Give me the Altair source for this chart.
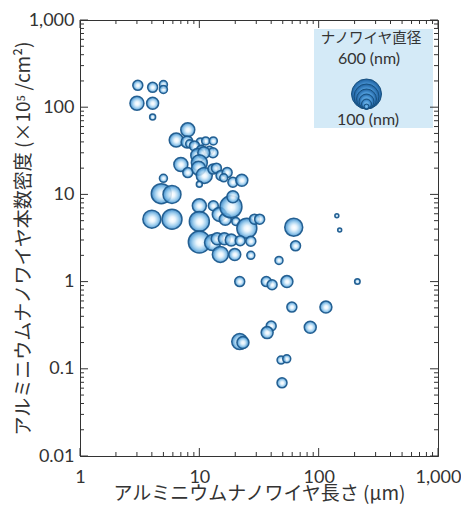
import altair as alt
import pandas as pd

# ---------------- data ----------------
length_um = [
    3.05, 4.06, 5.0, 5.0, 3.0, 4.06, 4.06,
    8.0, 6.4, 7.9, 8.3, 10.2, 11.3, 13.1, 9.1, 10.4, 12.2, 13.0, 9.7, 10.9,
    7.0, 10.0, 9.85, 11.0, 8.0, 13.0, 13.9, 15.2, 17.1, 16.0, 19.1, 22.7, 10.0, 5.0,
    4.8, 5.9, 4.0, 5.9, 10.0, 10.0, 13.1, 14.7, 16.5, 20.2, 18.4, 19.1, 25.0, 29.0, 32.0,
    10.0, 12.9, 14.1, 16.2, 18.5, 22.0, 27.0, 15.0, 19.8, 27.0,
    61.8, 64.0, 142.0, 150.0, 211.0, 46.5, 21.8, 36.4, 40.7, 54.2,
    59.6, 115.0, 85.0, 40.0, 37.0, 21.8, 23.2, 48.4, 54.0, 49.3,
]
density = [
    178, 169, 182, 160, 111, 111, 77,
    55, 42, 40, 38, 40, 41, 41, 36, 32, 32, 30, 28, 30,
    22, 23, 20, 16.5, 17.8, 19.5, 20, 16.5, 17.8, 15.5, 13.8, 14.5, 13.1, 15.3,
    10.2, 10.0, 5.2, 5.2, 7.4, 4.9, 7.4, 5.9, 5.2, 4.9, 7.2, 9.4, 4.1, 5.2, 5.2,
    2.85, 2.8, 3.1, 3.1, 3.0, 2.95, 2.9, 2.05, 2.05, 2.0,
    4.2, 2.57, 5.7, 3.9, 1.0, 1.75, 1.0, 1.0, 0.92, 1.0,
    0.51, 0.51, 0.30, 0.31, 0.26, 0.205, 0.20, 0.126, 0.13, 0.069,
]
diameter_nm = [
    200, 200, 160, 160, 280, 240, 120,
    280, 280, 240, 160, 160, 160, 160, 200, 200, 160, 200, 280, 240,
    280, 320, 280, 320, 200, 200, 200, 200, 200, 160, 200, 240, 120, 160,
    400, 360, 360, 400, 280, 400, 200, 280, 240, 160, 440, 240, 400, 200, 200,
    440, 320, 240, 240, 240, 200, 200, 320, 240, 160,
    360, 200, 80, 80, 110, 160, 200, 200, 200, 240,
    200, 240, 240, 200, 240, 320, 240, 160, 160, 200,
]

x_major = [1, 10, 100, 1000]
y_major = [0.01, 0.1, 1, 10, 100, 1000]
x_minor = [m * 10 ** e for e in range(0, 3) for m in range(2, 10)]
y_minor = [m * 10.0 ** e for e in range(-2, 3) for m in range(2, 10)]

legend_diam = [600, 500, 400, 300, 200, 100]
legend_title = "ナノワイヤ直径"
legend_max = "600 (nm)"
legend_min = "100 (nm)"
x_title = "アルミニウムナノワイヤ長さ (µm)"
y_title = "アルミニウムナノワイヤ本数密度 (×10⁵ /cm²)"

# ---------------- styling ----------------
W, H = 358, 436
FONT = "Noto Sans CJK JP"
NUMFONT = "Lato"
TXT = "#333333"
AX = "#333333"
MAJ, MIN = 8, 4
PX_PER_NM = 0.05  # circle diameter in px per nm

bubble_grad = alt.RadialGradient(
    gradient="radial",
    stops=[
        alt.GradientStop(color="#ffffff", offset=0),
        alt.GradientStop(color="#e8f4fc", offset=0.28),
        alt.GradientStop(color="#92c8ec", offset=0.62),
        alt.GradientStop(color="#4a97d2", offset=0.86),
        alt.GradientStop(color="#2a78b8", offset=1),
    ],
    x1=0.52, y1=0.52, r1=0, x2=0.52, y2=0.52, r2=0.52,
)
legend_grad = alt.RadialGradient(
    gradient="radial",
    stops=[
        alt.GradientStop(color="#80c2f0", offset=0),
        alt.GradientStop(color="#4b97d6", offset=0.65),
        alt.GradientStop(color="#1d5f9f", offset=1),
    ],
    x1=0.5, y1=0.5, r1=0, x2=0.5, y2=0.5, r2=0.5,
)

xscale = alt.Scale(type="log", domain=[1, 1000], nice=False)
yscale = alt.Scale(type="log", domain=[0.01, 1000], nice=False)
size_scale = alt.Scale(type="pow", exponent=2, domain=[0, 600],
                       range=[0, (600 * PX_PER_NM) ** 2])

xaxis = alt.Axis(values=x_major, format=",", ticks=False, tickSize=0, grid=False,
                 domainColor=AX, labelFontSize=18, labelColor=TXT, labelFont=NUMFONT,
                 labelPadding=12, labelFlush=False, labelOverlap=False,
                 title=x_title, titleFontSize=19, titleColor=TXT, titleFont=FONT,
                 titleFontWeight="normal", titlePadding=-2)
yaxis = alt.Axis(values=y_major, format=",", ticks=False, tickSize=0, grid=False,
                 domainColor=AX, labelFontSize=18, labelColor=TXT, labelFont=NUMFONT,
                 labelPadding=6, labelOverlap=False,
                 title=y_title, titleFontSize=19, titleColor=TXT, titleFont=FONT,
                 titleFontWeight="normal", titlePadding=-5)

df = pd.DataFrame({"len": length_um, "dens": density, "d": diameter_nm})

scatter = alt.Chart(df).mark_circle(
    fill=bubble_grad, stroke="#1c5a8d", strokeWidth=1.5,
    fillOpacity=0.85, strokeOpacity=0.95, opacity=1,
).encode(
    x=alt.X("len:Q", scale=xscale, axis=xaxis),
    y=alt.Y("dens:Q", scale=yscale, axis=yaxis),
    size=alt.Size("d:Q", scale=size_scale, legend=None),
)


def tick_layer(vals, L, side):
    base = alt.Chart(pd.DataFrame({"v": vals})).mark_rule(color=AX, strokeWidth=1)
    if side == "left":
        return base.encode(y=alt.Y("v:Q", scale=yscale, axis=yaxis),
                           x=alt.value(0), x2=alt.value(L))
    if side == "right":
        return base.encode(y=alt.Y("v:Q", scale=yscale, axis=yaxis),
                           x=alt.value(W - L), x2=alt.value(W))
    if side == "bottom":
        return base.encode(x=alt.X("v:Q", scale=xscale, axis=xaxis),
                           y=alt.value(H), y2=alt.value(H - L))
    return base.encode(x=alt.X("v:Q", scale=xscale, axis=xaxis),
                       y=alt.value(0), y2=alt.value(L))


tick_layers = []
for side in ["left", "right"]:
    tick_layers.append(tick_layer(y_major, MAJ, side))
    tick_layers.append(tick_layer(y_minor, MIN, side))
for side in ["bottom", "top"]:
    tick_layers.append(tick_layer(x_major, MAJ, side))
    tick_layers.append(tick_layer(x_minor, MIN, side))

main = alt.layer(scatter, *tick_layers)

one = alt.Data(values=[{}])
leg_box = alt.Chart(one).mark_rect(color="#d4eaf7").encode(
    x=alt.value(234), x2=alt.value(353), y=alt.value(9), y2=alt.value(108))
leg_t1 = alt.Chart(one).mark_text(text=legend_title, fontSize=14.5, color=TXT, font=FONT,
                                  baseline="middle").encode(x=alt.value(291), y=alt.value(19))
leg_t2 = alt.Chart(one).mark_text(text=legend_max, fontSize=16, color=TXT, font=NUMFONT,
                                  baseline="middle").encode(x=alt.value(289), y=alt.value(39))
leg_t3 = alt.Chart(one).mark_text(text=legend_min, fontSize=16, color=TXT, font=NUMFONT,
                                  baseline="middle").encode(x=alt.value(288), y=alt.value(99.5))
LEG_BOTTOM = 89
leg_circles = alt.Chart(pd.DataFrame({"d": legend_diam})).transform_calculate(
    cy=f"{LEG_BOTTOM} - datum.d * {PX_PER_NM / 2}"
).mark_circle(fill=legend_grad, stroke="#17507f", strokeWidth=1, opacity=1).encode(
    x=alt.value(286.5),
    y=alt.Y("cy:Q", scale=alt.Scale(domain=[0, H], range=[0, H]), axis=None),
    size=alt.Size("d:Q", scale=size_scale, legend=None),
)

chart = alt.layer(leg_box, main, leg_t1, leg_t2, leg_t3, leg_circles).resolve_scale(
    x="independent", y="independent", size="shared"
).properties(
    width=W, height=H,
    autosize=alt.AutoSizeParams(type="none"),
    padding={"left": 72, "top": 12, "right": 23, "bottom": 48},
).configure(font=FONT).configure_view(stroke=AX, strokeWidth=1)

chart.save("out.html", embed_options={"renderer": "svg", "actions": False})
